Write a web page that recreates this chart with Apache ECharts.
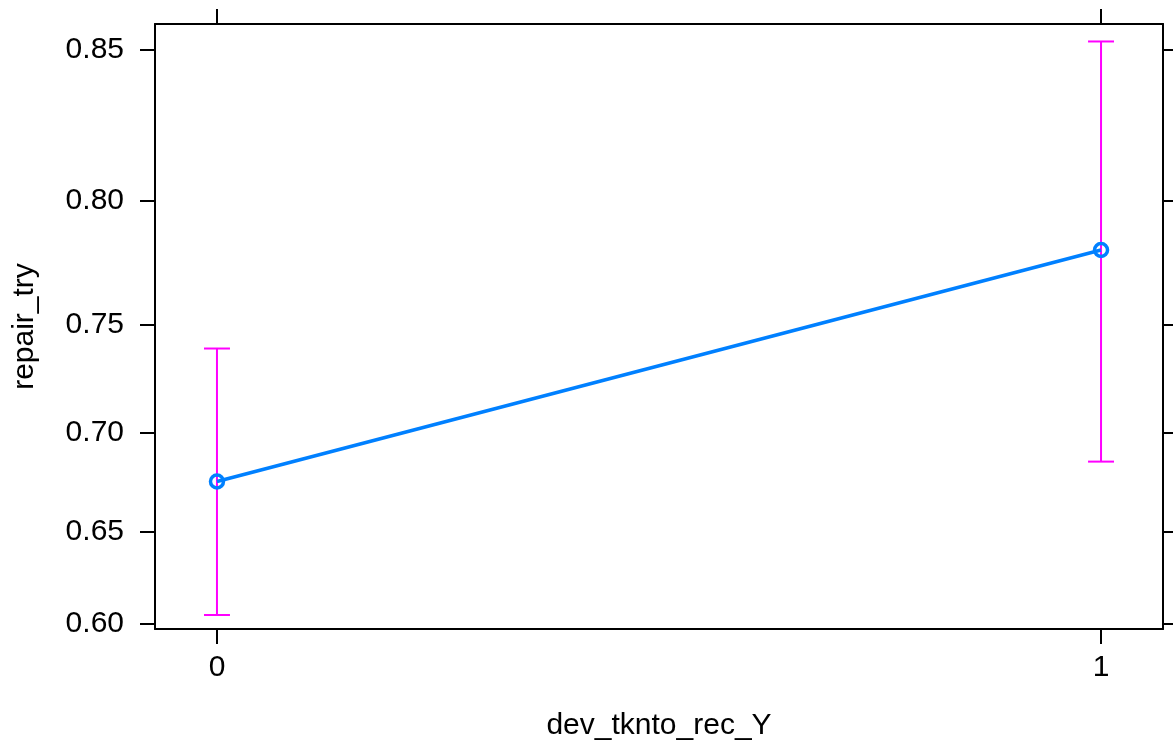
<!DOCTYPE html>
<html>
<head>
<meta charset="utf-8">
<script src="https://cdn.jsdelivr.net/npm/echarts@6/dist/echarts.min.js"></script>
<style>
  html, body { margin: 0; padding: 0; background: #fff; }
  #chart { width: 1173px; height: 746px; }
</style>
</head>
<body>
<div id="chart"></div>
<script>
// Effect of dev_tknto_rec_Y on repair_try, shown on the logit scale
const categories = [0, 1];
const fitValues = [0.676, 0.781];
const lowerValues = [0.605, 0.686];
const upperValues = [0.7395, 0.8525];
const yTickValues = [0.60, 0.65, 0.70, 0.75, 0.80, 0.85];

const logit = p => Math.log(p / (1 - p));
const invLogit = v => 1 / (1 + Math.exp(-v));

const FONT = 'Liberation Sans, Arial, sans-serif';
const BLUE = '#0080ff';
const MAGENTA = '#ff00ff';

const yMinL = 0.3939, yMaxL = 1.7948;
const xMin = -0.0701, xMax = 1.0701;

const linePoints = categories.map((c, i) => [c, logit(fitValues[i])]);
const barData = categories.map((c, i) => [c, logit(lowerValues[i]), logit(upperValues[i])]);
const yTicksLogit = yTickValues.map(logit);

const axisLine = { show: true, onZero: false, lineStyle: { color: '#000', width: 2 } };
const tickStyle = { color: '#000', width: 2 };

const chart = echarts.init(document.getElementById('chart'), null, { renderer: 'canvas' });
chart.setOption({
  animation: false,
  backgroundColor: '#fff',
  grid: { left: 155, top: 24, width: 1008, height: 605, containLabel: false },
  xAxis: [
    {
      type: 'value', min: xMin, max: xMax, position: 'bottom',
      name: 'dev_tknto_rec_Y', nameLocation: 'middle', nameGap: 82,
      nameTextStyle: { fontFamily: FONT, fontSize: 30, color: '#000' },
      axisLine: axisLine,
      axisTick: { show: true, inside: false, length: 15, customValues: categories, lineStyle: tickStyle },
      axisLabel: { show: true, customValues: categories, margin: 24, fontFamily: FONT, fontSize: 30, color: '#000',
        formatter: v => String(v) },
      splitLine: { show: false }
    },
    {
      type: 'value', min: xMin, max: xMax, position: 'top',
      axisLine: axisLine,
      axisTick: { show: true, inside: false, length: 15, customValues: categories, lineStyle: tickStyle },
      axisLabel: { show: false },
      splitLine: { show: false }
    }
  ],
  yAxis: [
    {
      type: 'value', min: yMinL, max: yMaxL, position: 'left',
      name: 'repair_try', nameLocation: 'middle', nameGap: 115,
      nameTextStyle: { fontFamily: FONT, fontSize: 30, color: '#000' },
      axisLine: axisLine,
      axisTick: { show: true, inside: false, length: 15, customValues: yTicksLogit, lineStyle: tickStyle },
      axisLabel: { show: true, customValues: yTicksLogit, margin: 31, fontFamily: FONT, fontSize: 30, color: '#000',
        formatter: v => invLogit(v).toFixed(2) },
      splitLine: { show: false }
    },
    {
      type: 'value', min: yMinL, max: yMaxL, position: 'right',
      axisLine: axisLine,
      axisTick: { show: true, inside: false, length: 15, customValues: yTicksLogit, lineStyle: tickStyle },
      axisLabel: { show: false },
      splitLine: { show: false }
    }
  ],
  series: [
    {
      type: 'custom',
      xAxisIndex: 0, yAxisIndex: 0,
      z: 1,
      data: barData,
      renderItem: function (params, api) {
        const x = api.value(0);
        const lo = api.coord([x, api.value(1)]);
        const hi = api.coord([x, api.value(2)]);
        const half = 13;
        const style = { stroke: MAGENTA, lineWidth: 2 };
        return {
          type: 'group',
          children: [
            { type: 'line', shape: { x1: lo[0], y1: lo[1], x2: hi[0], y2: hi[1] }, style: style },
            { type: 'line', shape: { x1: hi[0] - half, y1: hi[1], x2: hi[0] + half, y2: hi[1] }, style: style },
            { type: 'line', shape: { x1: lo[0] - half, y1: lo[1], x2: lo[0] + half, y2: lo[1] }, style: style }
          ]
        };
      }
    },
    {
      type: 'line',
      xAxisIndex: 0, yAxisIndex: 0,
      z: 2,
      data: linePoints,
      symbol: 'circle',
      symbolSize: 13,
      showSymbol: true,
      lineStyle: { color: BLUE, width: 3.5 },
      itemStyle: { color: 'rgba(0,0,0,0)', borderColor: BLUE, borderWidth: 3.5 }
    }
  ]
});
</script>
</body>
</html>
